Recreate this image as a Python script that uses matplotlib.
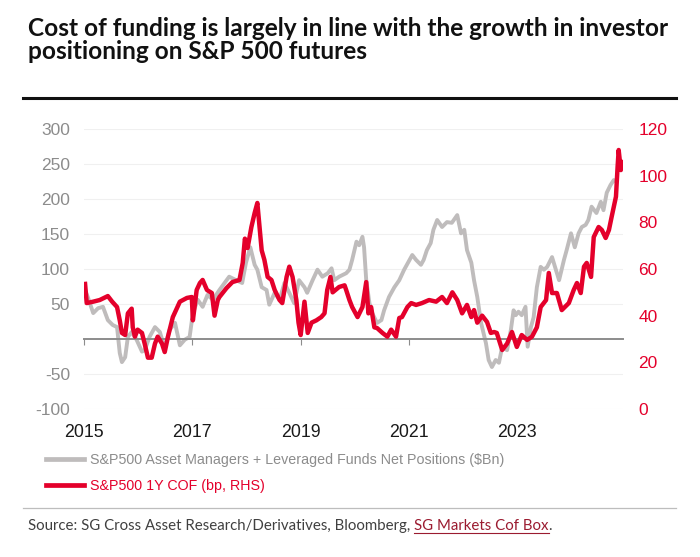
import matplotlib
matplotlib.use("Agg")
import matplotlib.pyplot as plt
from matplotlib.lines import Line2D

# S&P500 1Y cost of funding (bp, RHS)
cof_t = [2015.02, 2015.05, 2015.17, 2015.29, 2015.44, 2015.52, 2015.61, 2015.66, 2015.70, 2015.76,
         2015.81, 2015.88, 2015.90, 2015.94, 2015.99, 2016.07, 2016.12, 2016.18, 2016.25, 2016.31,
         2016.36, 2016.44, 2016.49, 2016.55, 2016.64, 2016.77, 2016.90, 2016.99, 2017.01, 2017.08,
         2017.14, 2017.19, 2017.27, 2017.36, 2017.41, 2017.47, 2017.50, 2017.63, 2017.74, 2017.87,
         2017.93, 2017.97, 2018.02, 2018.09, 2018.15, 2018.20, 2018.24, 2018.28, 2018.33, 2018.39,
         2018.46, 2018.52, 2018.61, 2018.66, 2018.74, 2018.79, 2018.85, 2018.92, 2018.96, 2019.00,
         2019.07, 2019.13, 2019.20, 2019.29, 2019.38, 2019.44, 2019.49, 2019.55, 2019.59, 2019.71,
         2019.81, 2019.84, 2019.90, 2019.95, 2020.05, 2020.14, 2020.21, 2020.25, 2020.30, 2020.36,
         2020.41, 2020.51, 2020.60, 2020.67, 2020.76, 2020.82, 2020.87, 2020.97, 2021.04, 2021.13,
         2021.24, 2021.37, 2021.50, 2021.61, 2021.70, 2021.80, 2021.89, 2021.98, 2022.07, 2022.15,
         2022.20, 2022.26, 2022.35, 2022.44, 2022.51, 2022.57, 2022.62, 2022.72, 2022.81, 2022.90,
         2022.99, 2023.08, 2023.18, 2023.27, 2023.36, 2023.43, 2023.53, 2023.58, 2023.64, 2023.73,
         2023.82, 2023.95, 2024.04, 2024.10, 2024.17, 2024.23, 2024.28, 2024.36, 2024.41, 2024.50,
         2024.56, 2024.63, 2024.69, 2024.74, 2024.82, 2024.85, 2024.87, 2024.91, 2024.93]
cof_bp = [53.6, 45.4, 46.0, 46.7, 48.4, 46.0, 43.7, 38.0, 32.6, 31.7,
          41.0, 43.0, 35.0, 31.0, 34.0, 32.6, 28.0, 22.0, 22.0, 28.0,
          31.0, 28.0, 24.4, 31.0, 39.4, 46.0, 47.6, 48.0, 38.0, 51.0,
          54.0, 55.3, 51.0, 49.7, 40.0, 46.7, 48.0, 51.8, 54.4, 55.3,
          62.6, 73.0, 69.0, 78.0, 84.0, 88.3, 78.0, 68.0, 63.9, 56.6,
          55.3, 51.0, 46.7, 45.4, 56.6, 61.0, 56.6, 46.7, 37.0, 31.7,
          46.0, 32.6, 37.0, 38.0, 39.4, 41.0, 51.0, 56.6, 50.0, 52.3,
          53.0, 51.0, 46.7, 43.7, 39.4, 43.7, 54.4, 41.0, 43.7, 35.0,
          34.7, 32.6, 31.0, 34.0, 31.0, 39.0, 39.4, 43.7, 45.4, 44.6,
          45.4, 46.7, 46.0, 48.0, 45.4, 50.0, 46.7, 41.0, 44.6, 39.4,
          42.4, 37.0, 40.0, 37.3, 32.6, 33.0, 32.6, 25.3, 28.0, 33.0,
          26.6, 31.7, 29.6, 31.0, 35.0, 43.7, 46.7, 58.3, 49.7, 49.7,
          42.4, 45.4, 51.0, 54.0, 49.7, 61.0, 62.6, 56.6, 73.7, 78.0,
          76.7, 73.3, 76.7, 82.3, 91.0, 103.7, 111.0, 102.4, 105.9]

# Asset managers + leveraged funds net positions ($Bn, LHS)
pos_t = [2015.02, 2015.07, 2015.17, 2015.26, 2015.35, 2015.44, 2015.53, 2015.61, 2015.66, 2015.70,
         2015.76, 2015.81, 2015.88, 2015.97, 2016.07, 2016.12, 2016.21, 2016.31, 2016.40, 2016.49,
         2016.58, 2016.68, 2016.77, 2016.86, 2016.95, 2017.01, 2017.10, 2017.19, 2017.28, 2017.38,
         2017.50, 2017.68, 2017.81, 2017.92, 2017.99, 2018.07, 2018.15, 2018.20, 2018.28, 2018.37,
         2018.42, 2018.52, 2018.61, 2018.70, 2018.79, 2018.88, 2018.97, 2019.07, 2019.12, 2019.22,
         2019.31, 2019.40, 2019.50, 2019.57, 2019.62, 2019.71, 2019.84, 2019.90, 2019.95, 2020.03,
         2020.08, 2020.14, 2020.17, 2020.21, 2020.27, 2020.32, 2020.41, 2020.49, 2020.54, 2020.63,
         2020.73, 2020.82, 2020.91, 2021.01, 2021.06, 2021.13, 2021.22, 2021.27, 2021.33, 2021.40,
         2021.45, 2021.52, 2021.61, 2021.70, 2021.79, 2021.89, 2021.96, 2022.02, 2022.07, 2022.15,
         2022.20, 2022.26, 2022.33, 2022.42, 2022.47, 2022.53, 2022.60, 2022.66, 2022.72, 2022.81,
         2022.88, 2022.93, 2022.97, 2023.02, 2023.08, 2023.15, 2023.19, 2023.25, 2023.30, 2023.36,
         2023.43, 2023.49, 2023.55, 2023.64, 2023.71, 2023.77, 2023.86, 2023.91, 2023.99, 2024.06,
         2024.13, 2024.19, 2024.26, 2024.31, 2024.37, 2024.46, 2024.54, 2024.59, 2024.65, 2024.72,
         2024.78, 2024.83]
pos_bn = [70, 60, 37, 44, 46, 27, 20, 17, -20, -33,
          -26, 3, 10, -1, -18, -16, 3, 17, 10, -13,
          13, 23, -9, -1, 3, 37, 56, 46, 63, 56,
          70, 89, 84, 80, 109, 131, 106, 99, 74, 70,
          49, 66, 56, 80, 66, 51, 84, 74, 66, 84,
          99, 89, 94, 101, 84, 89, 94, 99, 113, 139,
          134, 146, 131, 84, 51, 37, 23, 27, 41, 60,
          74, 84, 99, 113, 120, 113, 106, 113, 127, 137,
          156, 170, 160, 167, 166, 177, 151, 156, 127, 109,
          84, 60, 23, -6, -30, -40, -30, -34, -11, -16,
          13, 41, 34, 39, 34, 46, -11, 17, 31, 74,
          103, 99, 103, 117, 99, 84, 113, 127, 151, 131,
          151, 160, 163, 170, 189, 180, 196, 184, 209, 220,
          227, 225]

year_ticks = [2015, 2017, 2019, 2021, 2023]
left_ticks = [-100, -50, 50, 100, 150, 200, 250, 300]
right_ticks = [0, 20, 40, 60, 80, 100, 120]
legend_labels = ["S&P500 Asset Managers + Leveraged Funds Net Positions ($Bn)",
                 "S&P500 1Y COF (bp, RHS)"]

RED = "#e4002b"
GREY = "#bfbcbc"
LBL_GREY = "#8c8c8c"

plt.rcParams["font.family"] = ["Liberation Sans", "DejaVu Sans"]
plt.rcParams["axes.unicode_minus"] = False

fig = plt.figure(figsize=(7, 5.57), dpi=100)
W, H = 700, 557

ax = fig.add_axes([84 / W, 1 - 409 / H, (623 - 84) / W, (409 - 129) / H])
ax2 = ax.twinx()

ax.plot(pos_t, pos_bn, color=GREY, lw=2.8, solid_joinstyle="round", zorder=2)
ax2.plot(cof_t, cof_bp, color=RED, lw=3.2, solid_joinstyle="round", zorder=3)

ax.set_xlim(2015, 2024.95)
ax.set_ylim(-100, 300)
ax2.set_ylim(0, 120)

for a in (ax, ax2):
    for s in a.spines.values():
        s.set_visible(False)

ax.set_yticks(left_ticks)
ax.grid(axis="y", color="#f0f0f0", lw=0.8)
ax.set_axisbelow(True)
ax.tick_params(axis="y", length=0, pad=10, labelsize=12.5, labelcolor=LBL_GREY)

ax2.set_yticks(right_ticks)
ax2.tick_params(axis="y", length=0, pad=11, labelsize=12.5, labelcolor=RED)

# x axis sits on the zero line, year labels under the plot
ax.spines["bottom"].set_visible(True)
ax.spines["bottom"].set_position(("data", 0))
ax.spines["bottom"].set_color("#8c8c8c")
ax.spines["bottom"].set_linewidth(1.4)
ax.set_xticks(year_ticks)
ax.set_xticklabels([str(y) for y in year_ticks])
ax.tick_params(axis="x", direction="out", length=4, width=0.8, color="#8c8c8c",
               pad=57, labelsize=12.8, labelcolor="#1a1a1a")

# title + rules
fig.text(28 / W, 1 - 17 / H, "Cost of funding is largely in line with the growth in investor\n"
         "positioning on S&P 500 futures", ha="left", va="top", fontsize=17.6,
         fontweight="bold", family=["Lato", "DejaVu Sans"], linespacing=0.98, color="#111111")
fig.add_artist(Line2D([23 / W, 676 / W], [1 - 98 / H, 1 - 98 / H], color="#111111", lw=2.2))
fig.add_artist(Line2D([23 / W, 676 / W], [1 - 508 / H, 1 - 508 / H], color="#bdbdbd", lw=0.9))

# legend
h1 = Line2D([], [], color=GREY, lw=3.4)
h2 = Line2D([], [], color=RED, lw=3.4)
fig.legend([h1, h2], legend_labels,
           loc="upper left", bbox_to_anchor=(40 / W, 1 - 447 / H), frameon=False,
           fontsize=10.3, labelcolor=[LBL_GREY, RED],
           handlelength=2.7, handletextpad=0.4, labelspacing=0.85, borderaxespad=0)

# source line with underlined link text
renderer = fig.canvas.get_renderer()
src_kw = dict(fontsize=10.8, family=["Lato", "DejaVu Sans"], va="baseline", ha="left")
y_src = 1 - 530 / H
t1 = fig.text(28 / W, y_src, "Source: SG Cross Asset Research/Derivatives, Bloomberg, ",
              color="#404040", **src_kw)
bb1 = t1.get_window_extent(renderer)
x2 = bb1.x1 / fig.bbox.width
t2 = fig.text(x2, y_src, "SG Markets Cof Box", color="#9b1b30", **src_kw)
bb2 = t2.get_window_extent(renderer)
x3 = bb2.x1 / fig.bbox.width
fig.text(x3, y_src, ".", color="#404040", **src_kw)
fig.add_artist(Line2D([x2, x3], [y_src - 3 / H, y_src - 3 / H], color="#9b1b30", lw=0.8))

fig.savefig("out.png", dpi=100)
